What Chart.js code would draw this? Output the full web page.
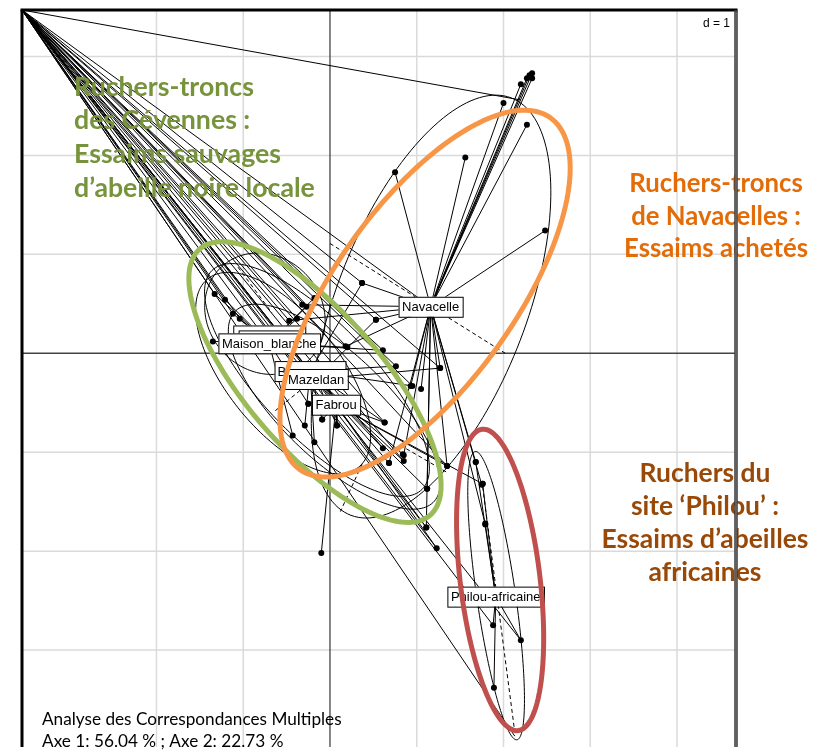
<!DOCTYPE html>
<html>
<head>
<meta charset="utf-8">
<script src="https://cdn.jsdelivr.net/npm/chart.js@4.4.0/dist/chart.umd.min.js"></script>
<style>
  html, body { margin: 0; padding: 0; background: #fff; }
  #cadre { width: 816px; height: 751px; position: relative; }
</style>
</head>
<body>
<div id="cadre"><canvas id="acm_graphique"></canvas></div>
<script>
// limites des axes (Axe 1 en x, Axe 2 en y)
const axeX = [-3.55, 4.68];
const axeY = [-3.98, 3.47];
const grilleX = [-2, -1, 1, 2, 3, 4];
const grilleY = [-3, -2, -1, 1, 2, 3];

// groupes : nom, centre
const groupes = ['Navacelle', 'Maison_blanche', 'B', 'Mazeldan', 'Fabrou', 'Philou-africaine'];
const centresX = [1.16, -0.70, -0.23, -0.16, 0.07, 1.91];
const centresY = [0.47, 0.10, -0.18, -0.26, -0.52, -2.46];

// individus par groupe
const ptsNavacelle = [[2.33,2.83],[2.30,2.81],[2.27,2.78],[2.33,2.78],[2.20,2.72],[2.00,2.53],[2.27,2.31],[1.56,1.98],[0.75,1.83],[2.48,1.24],[0.37,0.71],[-0.32,0.49],[-0.47,0.33],[0.18,0.07],[0.53,0.34],[1.27,-0.15],[0.93,-0.33],[1.05,-0.36],[1.35,-1.14],[1.68,-1.10],[1.12,-1.37],[1.75,-1.33],[1.79,-1.73],[1.11,-1.76],[0.85,-1.03],[0.68,-1.11]];
const ptsMaison = [[-1.33,0.60],[-1.21,0.54],[-1.12,0.40],[-1.04,0.35],[-1.35,0.12],[-0.38,0.35],[-0.27,0.47],[-0.18,0.56],[0.20,0.06],[0.61,0.03],[-0.25,-0.51],[-0.43,-0.83]];
const ptsB = [[-0.29,-0.73],[-0.18,-0.90],[-0.09,-0.67],[0.76,-0.13],[0.95,-0.33],[0.63,-0.70],[0.37,0.71]];
const ptsMazeldan = [[0.08,-0.73],[0.61,-0.96],[0.84,-1.02],[0.85,-1.09],[0.68,-1.11],[1.27,-0.15],[0.53,0.34],[1.12,-1.37]];
const ptsFabrou = [[-0.10,-2.02],[0.63,-0.70],[1.23,-1.97],[1.11,-1.76],[-0.25,-0.51],[-0.09,-0.67],[1.76,-1.32],[1.35,-1.14],[0.08,-0.73]];
const ptsPhilou = [[1.68,-1.10],[1.76,-1.32],[1.79,-1.72],[1.88,-2.75],[2.20,-2.90],[1.89,-3.38]];
const ptsGroupes = [ptsNavacelle, ptsMaison, ptsB, ptsMazeldan, ptsFabrou, ptsPhilou];

// centre hors cadre (coin haut gauche) et ses individus
const centreCoin = [-3.55, 3.47];
const ptsCoin = [[-1.33,0.60],[-1.21,0.54],[-1.12,0.40],[-1.04,0.35],[-0.47,0.33],[-0.38,0.35],[-0.32,0.49],[-0.27,0.47],[-0.18,0.56],[0.37,0.71],[0.20,0.06],[0.53,0.34],[0.61,0.03],[0.76,-0.13],[0.95,-0.33],[1.27,-0.15],[0.63,-0.70],[0.61,-0.96],[0.85,-1.09],[1.35,-1.14],[1.11,-1.76],[1.23,-1.97],[1.88,-2.75],[2.20,-2.90],[2.20,2.56],[2.13,-3.87],[-0.70,0.10],[-0.23,-0.18],[-0.16,-0.26],[0.07,-0.52],[1.16,0.47]];

// segments en tirets
const tirets = [[[0,1.11],[2.02,0]], [[1.76,-1.35],[2.13,-3.83]], [[-1.06,0.87],[-0.67,0.41]], [[0.37,-1.12],[0.12,-1.60]], [[-0.63,-0.58],[-0.35,-0.38]], [[0.81,-0.93],[1.36,-1.21]]];

// ellipses des groupes : centre, demi-axes u et v
const ellipsesGroupes = [
  {c: [1.165, 0.472], u: [0.923, 2.11], v: [1.027, -0.342]},
  {c: [-0.75, 0.40], u: [-0.461, 0.503], v: [0.519, 0.352]},
  {c: [-0.54, -0.20], u: [0.865, -0.955], v: [0.519, 0.352]},
  {c: [-0.15, -0.27], u: [1.211, -1.106], v: [0.461, 0.402]},
  {c: [0.05, -0.54], u: [1.153, -0.955], v: [0.404, 0.402]},
  {c: [1.915, -2.45], u: [-0.231, 1.457], v: [0.231, -0.03]}
];

// ellipses de couleur ajoutees
const ellipseVerte = {c: [-0.173, -0.291], u: [1.326, -1.347], v: [0.596, 0.446]};
const ellipseOrange = {c: [1.096, 0.603], u: [1.442, 1.779], v: [0.848, -0.523]};
const ellipseRouge = {c: [1.961, -2.291], u: [0.208, -1.523], v: [0.457, 0.047]};

const texteVert = ['Ruchers-troncs', 'des Cévennes :', 'Essaims sauvages', 'd’abeille noire locale'];
const texteOrange = ['Ruchers-troncs', 'de Navacelles :', 'Essaims achetés'];
const texteBrun = ['Ruchers du', 'site ‘Philou’ :', 'Essaims d’abeilles', 'africaines'];
const legende = ['Analyse des Correspondances Multiples', 'Axe 1: 56.04 % ; Axe 2: 22.73 %'];

function etoile(cx, cy, pts) {
  const d = [];
  pts.forEach(p => { d.push({x: cx, y: cy}, {x: p[0], y: p[1]}, {x: p[0], y: null}); });
  return d;
}

const datasets = [];
datasets.push({data: etoile(centreCoin[0], centreCoin[1], ptsCoin), showLine: true, borderColor: '#000', borderWidth: 1, pointRadius: 0, spanGaps: false});
groupes.forEach((g, i) => {
  datasets.push({data: etoile(centresX[i], centresY[i], ptsGroupes[i]), showLine: true, borderColor: '#000', borderWidth: 1, pointRadius: 0, spanGaps: false});
});
const dataTirets = [];
tirets.forEach(s => { dataTirets.push({x: s[0][0], y: s[0][1]}, {x: s[1][0], y: s[1][1]}, {x: s[1][0], y: null}); });
datasets.push({data: dataTirets, showLine: true, borderColor: '#000', borderWidth: 1, borderDash: [4, 3], pointRadius: 0, spanGaps: false});
const points = [];
ptsGroupes.forEach(l => l.forEach(p => points.push({x: p[0], y: p[1]})));
datasets.push({data: points, showLine: false, pointRadius: 3, pointBackgroundColor: '#000', pointBorderWidth: 0});

function traceEllipse(ctx, sx, sy, e, couleur, epaisseur) {
  ctx.beginPath();
  for (let i = 0; i <= 160; i++) {
    const t = i / 160 * 2 * Math.PI;
    const x = e.c[0] + e.u[0] * Math.cos(t) + e.v[0] * Math.sin(t);
    const y = e.c[1] + e.u[1] * Math.cos(t) + e.v[1] * Math.sin(t);
    const px = sx.getPixelForValue(x), py = sy.getPixelForValue(y);
    if (i) ctx.lineTo(px, py); else ctx.moveTo(px, py);
  }
  ctx.closePath();
  ctx.strokeStyle = couleur;
  ctx.lineWidth = epaisseur;
  ctx.stroke();
}

function taille(ctx, txt, cible, famille, poids) {
  ctx.font = poids + ' 20px ' + famille;
  return 20 * cible / ctx.measureText(txt).width;
}

function etiquette(ctx, px, py, txt, largeur) {
  ctx.font = '13px "Liberation Sans", Arial, sans-serif';
  const w = largeur || ctx.measureText(txt).width + 7;
  const h = 20;
  ctx.fillStyle = '#fff';
  ctx.fillRect(px - w / 2, py - h / 2, w, h);
  ctx.strokeStyle = '#000';
  ctx.lineWidth = 1;
  ctx.strokeRect(px - w / 2 + 0.5, py - h / 2 + 0.5, w, h);
  ctx.fillStyle = '#000';
  ctx.textAlign = largeur ? 'left' : 'center';
  ctx.textBaseline = 'middle';
  ctx.fillText(txt, largeur ? px - w / 2 + 3 : px, py + 1);
}

const dessin = {
  id: 'dessin',
  beforeDatasetsDraw(chart) {
    const {ctx, chartArea: a, scales: {x, y}} = chart;
    ctx.save();
    ctx.strokeStyle = '#dadada';
    ctx.lineWidth = 1.5;
    grilleX.forEach(v => { const p = x.getPixelForValue(v); ctx.beginPath(); ctx.moveTo(p, a.top); ctx.lineTo(p, a.bottom); ctx.stroke(); });
    grilleY.forEach(v => { const p = y.getPixelForValue(v); ctx.beginPath(); ctx.moveTo(a.left, p); ctx.lineTo(a.right, p); ctx.stroke(); });
    ctx.strokeStyle = '#444';
    ctx.lineWidth = 1.3;
    const x0 = x.getPixelForValue(0), y0 = y.getPixelForValue(0);
    ctx.beginPath(); ctx.moveTo(x0, a.top); ctx.lineTo(x0, a.bottom); ctx.stroke();
    ctx.beginPath(); ctx.moveTo(a.left, y0); ctx.lineTo(a.right, y0); ctx.stroke();
    ctx.beginPath(); ctx.rect(a.left, a.top, a.right - a.left, a.bottom - a.top); ctx.clip();
    ellipsesGroupes.forEach(e => traceEllipse(ctx, x, y, e, '#000', 1));
    ctx.restore();
  },
  afterDatasetsDraw(chart) {
    const {ctx, chartArea: a, scales: {x, y}} = chart;
    ctx.save();
    // etiquettes cachees derriere Maison_blanche
    etiquette(ctx, x.getPixelForValue(-0.70), y.getPixelForValue(0.18), '', 72);
    etiquette(ctx, x.getPixelForValue(-0.69), y.getPixelForValue(0.13), '', 63);
    const ordre = [1, 2, 3, 4, 0, 5];
    ordre.forEach(i => {
      const px = x.getPixelForValue(centresX[i]), py = y.getPixelForValue(centresY[i]);
      if (groupes[i] === 'B') etiquette(ctx, px, py, 'B', 71);
      else etiquette(ctx, px, py, groupes[i]);
    });
    traceEllipse(ctx, x, y, ellipseVerte, '#9bbb59', 5);
    traceEllipse(ctx, x, y, ellipseOrange, '#f79646', 5);
    traceEllipse(ctx, x, y, ellipseRouge, '#c0504d', 5);

    const fam = 'Lato, "Open Sans", sans-serif';
    ctx.textBaseline = 'middle';
    let s = taille(ctx, texteVert[3], 241, fam, 'bold');
    ctx.font = 'bold ' + s + 'px ' + fam;
    ctx.fillStyle = '#77933c';
    ctx.textAlign = 'left';
    texteVert.forEach((t, i) => ctx.fillText(t, 74, 87 + i * 33.7));

    s = taille(ctx, texteOrange[2], 184, fam, 'bold');
    ctx.font = 'bold ' + s + 'px ' + fam;
    ctx.fillStyle = '#e36c09';
    ctx.textAlign = 'center';
    texteOrange.forEach((t, i) => ctx.fillText(t, 716, 184 + i * 32.5));

    s = taille(ctx, texteBrun[2], 207, fam, 'bold');
    ctx.font = 'bold ' + s + 'px ' + fam;
    ctx.fillStyle = '#984807';
    texteBrun.forEach((t, i) => ctx.fillText(t, 705, 473 + i * 33.3));

    s = taille(ctx, legende[0], 300, fam, 'normal');
    ctx.font = s + 'px ' + fam;
    ctx.fillStyle = '#000';
    ctx.textAlign = 'left';
    legende.forEach((t, i) => ctx.fillText(t, 42, 719 + i * 22));

    ctx.font = '12px "Liberation Sans", Arial, sans-serif';
    ctx.textAlign = 'right';
    ctx.fillText('d = 1', a.right - 6, 24);

    // cadre
    ctx.strokeStyle = '#000';
    ctx.lineWidth = 3;
    ctx.beginPath(); ctx.moveTo(a.left - 1.5, a.top); ctx.lineTo(a.right + 1.5, a.top); ctx.stroke();
    ctx.beginPath(); ctx.moveTo(a.left, a.top); ctx.lineTo(a.left, a.bottom); ctx.stroke();
    ctx.strokeStyle = '#3a3a3a';
    ctx.lineWidth = 3.5;
    ctx.beginPath(); ctx.moveTo(a.right, a.top); ctx.lineTo(a.right, a.bottom); ctx.stroke();
    ctx.strokeStyle = '#999';
    ctx.lineWidth = 0.8;
    ctx.beginPath(); ctx.moveTo(a.right, a.top + 2); ctx.lineTo(a.right, a.bottom); ctx.stroke();
    ctx.restore();
  }
};

new Chart(document.getElementById('acm_graphique').getContext('2d'), {
  type: 'scatter',
  data: { datasets },
  options: {
    responsive: true,
    maintainAspectRatio: false,
    animation: false,
    layout: { padding: { left: 22, right: 80, top: 10, bottom: 0 } },
    plugins: { legend: { display: false }, tooltip: { enabled: false } },
    scales: {
      x: { type: 'linear', display: false, min: axeX[0], max: axeX[1] },
      y: { type: 'linear', display: false, min: axeY[0], max: axeY[1] }
    }
  },
  plugins: [dessin]
});
</script>
</body>
</html>
